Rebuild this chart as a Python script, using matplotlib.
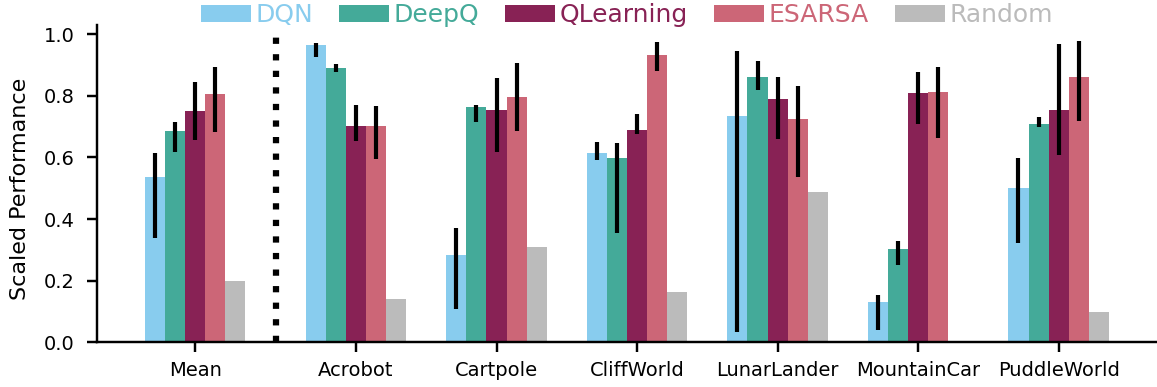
import numpy as np
import matplotlib
matplotlib.use("Agg")
import matplotlib.pyplot as plt

envs = ["Mean", "Acrobot", "Cartpole", "CliffWorld", "LunarLander", "MountainCar", "PuddleWorld"]
algs = ["DQN", "DeepQ", "QLearning", "ESARSA", "Random"]
colors = ["#88CCEE", "#44AA99", "#882255", "#CC6677", "#BBBBBB"]

# scaled performance per algorithm, one value per environment
dqn = [0.537, 0.965, 0.283, 0.615, 0.735, 0.131, 0.501]
deepq = [0.686, 0.891, 0.764, 0.598, 0.861, 0.303, 0.709]
qlearning = [0.751, 0.702, 0.754, 0.689, 0.790, 0.809, 0.754]
esarsa = [0.805, 0.702, 0.796, 0.933, 0.725, 0.813, 0.861]
random_perf = [0.199, 0.141, 0.309, 0.163, 0.488, 0.0, 0.098]

# lower / upper ends of the confidence intervals
dqn_lo = [0.338, 0.927, 0.107, 0.591, 0.032, 0.040, 0.323]
dqn_hi = [0.614, 0.972, 0.372, 0.649, 0.944, 0.154, 0.599]
deepq_lo = [0.619, 0.877, 0.714, 0.354, 0.819, 0.251, 0.699]
deepq_hi = [0.714, 0.903, 0.770, 0.646, 0.913, 0.329, 0.731]
qlearning_lo = [0.655, 0.653, 0.619, 0.675, 0.661, 0.710, 0.608]
qlearning_hi = [0.846, 0.770, 0.859, 0.740, 0.862, 0.878, 0.968]
esarsa_lo = [0.682, 0.596, 0.687, 0.882, 0.538, 0.663, 0.718]
esarsa_hi = [0.892, 0.766, 0.908, 0.976, 0.833, 0.895, 0.977]

means = [dqn, deepq, qlearning, esarsa, random_perf]
lows = [dqn_lo, deepq_lo, qlearning_lo, esarsa_lo, None]
highs = [dqn_hi, deepq_hi, qlearning_hi, esarsa_hi, None]

# the "Mean" group sits a bit apart from the individual environments
pos = np.array([0.0] + [1.145 + i for i in range(len(envs) - 1)])
width = 1 / 7

fig = plt.figure(figsize=(11.57, 3.87), dpi=100)
ax = fig.add_axes([0.0836, 0.1155, 0.9164, 0.820])

for j, (alg, col) in enumerate(zip(algs, colors)):
    x = pos + (j - 2) * width
    ax.bar(x, means[j], width=width, color=col, label=alg)
    if lows[j] is not None:
        ax.vlines(x, lows[j], highs[j], colors="black", linewidth=3.0)

ax.vlines((pos[0] + pos[1]) / 2, 0, 1.0, colors="black", linestyles=":", linewidth=4.5)

ax.set_xlim(pos[0] - 0.7, pos[-1] + 0.7)
ax.set_ylim(0, 1.03)
ax.set_xticks(pos)
ax.set_xticklabels(envs)
ax.set_yticks(np.arange(0, 1.01, 0.2))
ax.set_yticklabels([f"{v:.1f}" for v in np.arange(0, 1.01, 0.2)])
ax.tick_params(labelsize=14, width=1.75, length=7.5)
ax.tick_params(axis="x", pad=6)
ax.tick_params(axis="y", pad=8.5)
ax.set_ylabel("Scaled Performance", fontsize=16)
ax.yaxis.set_label_coords(-0.063, 0.483)

for side in ["top", "right"]:
    ax.spines[side].set_visible(False)
for side in ["left", "bottom"]:
    ax.spines[side].set_linewidth(1.75)

leg = ax.legend(loc="center", bbox_to_anchor=(0.5, 1.03), ncol=5, frameon=False,
                fontsize=18, handlelength=2.0, handletextpad=0.2, columnspacing=1.02,
                borderaxespad=0)
for txt, col in zip(leg.get_texts(), colors):
    txt.set_color(col)

fig.savefig("out.png", dpi=100)
